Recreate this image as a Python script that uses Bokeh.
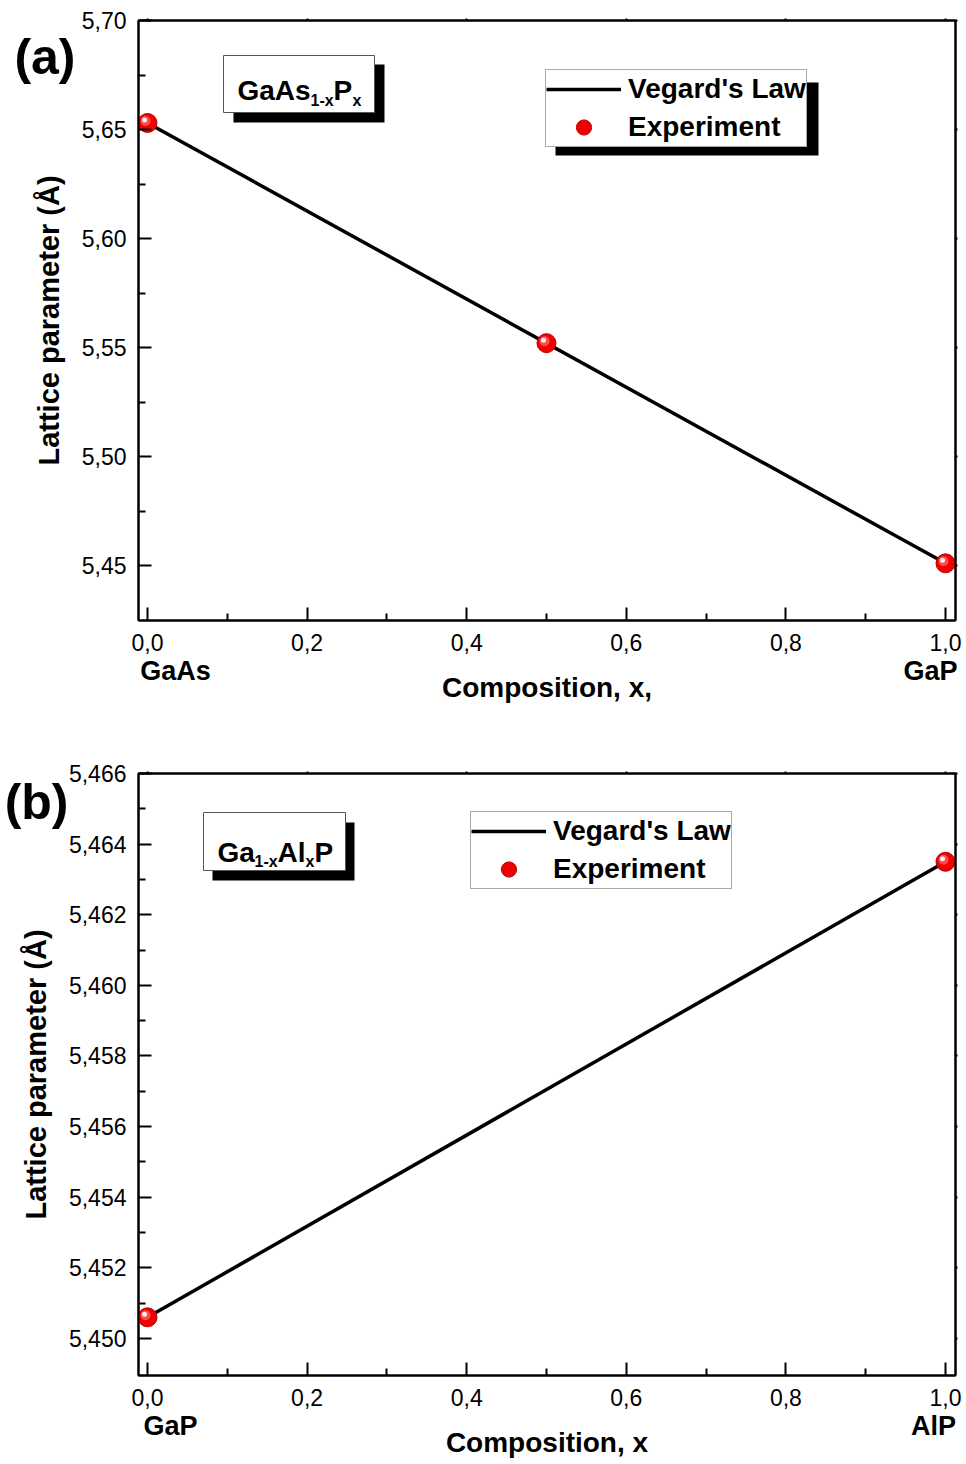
import numpy as np
from bokeh.plotting import figure
from bokeh.models import (Range1d, LinearAxis, FixedTicker, CustomJSTickFormatter,
                          Legend, LegendItem, Label, BoxAnnotation)
from bokeh.layouts import column
from bokeh.embed import file_html
from bokeh.resources import INLINE

# ---------------- data ----------------
comp_a = [0.0, 0.5, 1.0]
lat_a_exp = [5.6530, 5.5520, 5.4510]
vegard_a_x = [0.0, 1.0]
vegard_a_y = [5.6530, 5.4510]
ends_a = ["GaAs", "GaP"]

comp_b = [0.0, 1.0]
lat_b_exp = [5.4506, 5.4635]
vegard_b_x = [0.0, 1.0]
vegard_b_y = [5.4506, 5.4635]
ends_b = ["GaP", "AlP"]

x_major = [0.0, 0.2, 0.4, 0.6, 0.8, 1.0]
x_minor = [0.1, 0.3, 0.5, 0.7, 0.9]
ya_major = [5.45, 5.50, 5.55, 5.60, 5.65, 5.70]
ya_minor = [5.475, 5.525, 5.575, 5.625, 5.675]
yb_major = [5.450, 5.452, 5.454, 5.456, 5.458, 5.460, 5.462, 5.464, 5.466]
yb_minor = [5.451, 5.453, 5.455, 5.457, 5.459, 5.461, 5.463, 5.465]

FONT = "Liberation Sans"
FW = 817


def helpers(xr, yr, fh):
    def X(px):
        return xr[0] + px / FW * (xr[1] - xr[0])

    def Y(py):
        return yr[1] - py / fh * (yr[1] - yr[0])

    def DX(px):
        return px / FW * (xr[1] - xr[0])

    def DY(py):
        return py / fh * (yr[1] - yr[0])
    return X, Y, DX, DY


def make_panel(fh, top, bottom, xr, yr, yt_major, yt_minor, ydec, xlabel, ends, end_px,
               letter, letter_py, letter_standoff):
    p = figure(frame_width=FW, frame_height=fh, x_range=Range1d(*xr), y_range=Range1d(*yr),
               output_backend="svg", toolbar_location=None,
               min_border_left=138, min_border_right=11, min_border_top=top,
               min_border_bottom=bottom, x_axis_type=None, y_axis_type=None)
    p.grid.visible = False
    p.outline_line_color = "black"
    p.outline_line_width = 2
    p.background_fill_color = "white"
    p.border_fill_color = "white"
    X, Y, DX, DY = helpers(xr, yr, fh)

    xt = FixedTicker(ticks=x_major, minor_ticks=x_minor)
    yt = FixedTicker(ticks=yt_major, minor_ticks=yt_minor)
    xfmt = CustomJSTickFormatter(code="return tick.toFixed(1).replace('.', ',');")
    yfmt = CustomJSTickFormatter(code="return tick.toFixed(%d).replace('.', ',');" % ydec)
    blank = CustomJSTickFormatter(code="return '';")

    def style(ax, labels):
        ax.axis_line_width = 2
        ax.axis_line_color = "black"
        ax.major_tick_line_width = 2
        ax.minor_tick_line_width = 2
        ax.major_tick_line_color = "black"
        ax.minor_tick_line_color = "black"
        if labels:
            ax.major_tick_in = 13
            ax.major_tick_out = 0
            ax.minor_tick_in = 7
            ax.minor_tick_out = 0
            ax.major_label_text_font = FONT
            ax.major_label_text_font_size = "23px"
            ax.major_label_text_color = "black"
            ax.axis_label_text_font = FONT
            ax.axis_label_text_font_style = "bold"
            ax.axis_label_text_color = "black"
        else:
            ax.major_tick_in = 0
            ax.major_tick_out = 2
            ax.minor_tick_in = 0
            ax.minor_tick_out = 0
            ax.major_label_text_font_size = "0px"
            ax.major_label_standoff = 0

    def bare(ax):
        ax.axis_line_color = None
        ax.major_tick_in = 0
        ax.major_tick_out = 0
        ax.minor_tick_in = 0
        ax.minor_tick_out = 0
        ax.major_label_text_font = FONT
        ax.major_label_text_font_style = "bold"
        ax.major_label_text_color = "black"

    bx = LinearAxis(ticker=xt, formatter=xfmt)
    style(bx, True)
    bx.major_label_standoff = 13
    # second below axis: end-member names + axis title
    end_ticks = [X(v) for v in end_px]
    bx2 = LinearAxis(ticker=FixedTicker(ticks=end_ticks, minor_ticks=[]),
                     major_label_overrides={end_ticks[0]: ends[0], end_ticks[1]: ends[1]},
                     axis_label=xlabel)
    bare(bx2)
    bx2.major_label_standoff = 2
    bx2.major_label_text_font_size = "27px"
    bx2.axis_label_text_font = FONT
    bx2.axis_label_text_font_style = "bold"
    bx2.axis_label_text_font_size = "28px"
    bx2.axis_label_text_color = "black"
    bx2.axis_label_standoff = -17

    ly = LinearAxis(ticker=yt, formatter=yfmt, axis_label="Lattice parameter (Å)")
    style(ly, True)
    ly.major_label_standoff = 12
    ly.axis_label_text_font_size = "29px"
    ly.axis_label_standoff = 14
    # outer left axis carrying the panel letter
    lt = [Y(letter_py)]
    ly2 = LinearAxis(ticker=FixedTicker(ticks=lt, minor_ticks=[]),
                     major_label_overrides={lt[0]: letter})
    bare(ly2)
    ly2.major_label_text_font_size = "50px"
    ly2.major_label_standoff = letter_standoff

    tx = LinearAxis(ticker=xt, formatter=blank)
    style(tx, False)
    ry = LinearAxis(ticker=yt, formatter=blank)
    style(ry, False)
    p.add_layout(bx, "below")
    p.add_layout(bx2, "below")
    p.add_layout(ly, "left")
    p.add_layout(ly2, "left")
    p.add_layout(tx, "above")
    p.add_layout(ry, "right")
    return p, X, Y, DX, DY


def box(p, X, Y, l, r, t, b, fill, line):
    p.add_layout(BoxAnnotation(left=X(l), right=X(r), top=Y(t), bottom=Y(b),
                               fill_color=fill, fill_alpha=1.0,
                               line_color=line if line else "black", line_width=1,
                               line_alpha=1.0 if line else 0.0))


def txt(p, X, Y, s, px, py, size, align="left"):
    p.add_layout(Label(x=X(px), y=Y(py), text=s, text_font=FONT, text_font_size=size,
                       text_font_style="bold", text_color="black",
                       text_align=align, text_baseline="alphabetic"))


def series(p, xs, ys, vx, vy, DX, DY):
    line_r = p.line(vx, vy, line_color="black", line_width=3.5)
    s1 = p.scatter(xs, ys, size=19, fill_color="#f00000", line_color="#b80000", line_width=1)
    p.scatter([x - DX(2) for x in xs], [y + DY(2) for y in ys], size=10,
              fill_color="#ff4a4a", line_color=None)
    p.scatter([x - DX(3) for x in xs], [y + DY(3) for y in ys], size=5,
              fill_color="white", fill_alpha=0.9, line_color=None)
    return line_r, [s1]


def legend(p, line_r, sc, loc):
    lg = Legend(items=[LegendItem(label="Vegard's Law", renderers=[line_r]),
                       LegendItem(label="Experiment", renderers=sc)],
                location=loc, margin=0, padding=0, spacing=-4,
                glyph_width=75, glyph_height=38, label_height=38, label_standoff=7,
                label_text_font=FONT, label_text_font_style="bold", label_text_font_size="28px",
                label_text_color="black", border_line_color="#555555", border_line_width=1,
                background_fill_color="white", background_fill_alpha=1.0)
    p.add_layout(lg)


xr = (-9 / 798, 1 + 10 / 798)

# ---------------- panel (a) ----------------
yra = (5.70 - 600 / 2180, 5.70)
pa, Xa, Ya, DXa, DYa = make_panel(600, 20, 112, xr, yra, ya_major, ya_minor, 2,
                                  "Composition, x,", ends_a, (37, 792), "(a)", 36, -46)
lra, sca = series(pa, comp_a, lat_a_exp, vegard_a_x, vegard_a_y, DXa, DYa)
box(pa, Xa, Ya, 95, 246, 44, 102, "black", None)
box(pa, Xa, Ya, 85, 236, 35, 92, "white", "#555555")
txt(pa, Xa, Ya, "GaAs", 99, 70, "28px")
txt(pa, Xa, Ya, "1-x", 172, 80, "16px")
txt(pa, Xa, Ya, "P", 195, 70, "28px")
txt(pa, Xa, Ya, "x", 214, 80, "16px")
box(pa, Xa, Ya, 417, 680, 62, 135, "black", None)
legend(pa, lra, sca, (407, 473))

# ---------------- panel (b) ----------------
yrb = (5.450 - 37 / 35312, 5.466)
pb, Xb, Yb, DXb, DYb = make_panel(602, 41, 89, xr, yrb, yb_major, yb_minor, 3,
                                  "Composition, x", ends_b, (32, 795), "(b)", 28, -52)
lrb, scb = series(pb, comp_b, lat_b_exp, vegard_b_x, vegard_b_y, DXb, DYb)
box(pb, Xb, Yb, 74, 216, 49, 107, "black", None)
box(pb, Xb, Yb, 65, 207, 39, 97, "white", "#555555")
txt(pb, Xb, Yb, "Ga", 79, 79, "28px")
txt(pb, Xb, Yb, "1-x", 116, 88, "16px")
txt(pb, Xb, Yb, "Al", 139, 79, "28px")
txt(pb, Xb, Yb, "x", 167, 88, "16px")
txt(pb, Xb, Yb, "P", 176, 79, "28px")
legend(pb, lrb, scb, (332, 486))

layout = column(pa, pb, spacing=0)
open("out.html", "w").write(file_html(layout, INLINE))
